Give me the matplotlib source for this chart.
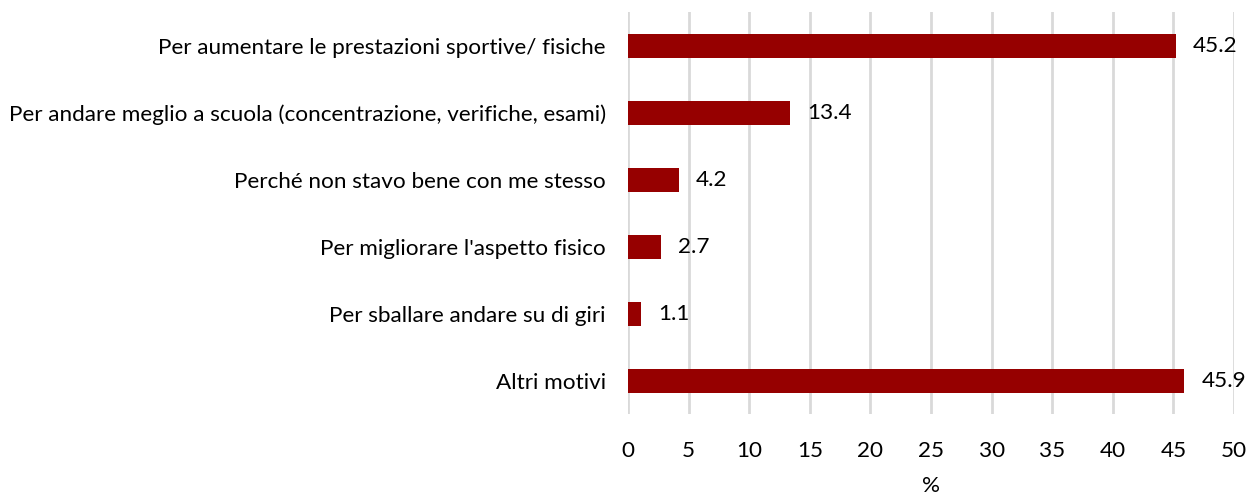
import matplotlib.pyplot as plt
import numpy as np

plt.rcParams["font.family"] = ["Lato", "DejaVu Sans"]

categories = [
    "Per aumentare le prestazioni sportive/ fisiche",
    "Per andare meglio a scuola (concentrazione, verifiche, esami)",
    "Perché non stavo bene con me stesso",
    "Per migliorare l'aspetto fisico",
    "Per sballare andare su di giri",
    "Altri motivi",
]
values = [45.2, 13.4, 4.2, 2.7, 1.1, 45.9]
xticks = [0, 5, 10, 15, 20, 25, 30, 35, 40, 45, 50]

BAR_COLOR = "#960000"
FS = 16.2

fig = plt.figure(figsize=(12.48, 4.94), dpi=100)
ax = fig.add_axes([0.5032, 0.161, 0.4856, 0.8137])

y = np.arange(len(categories))
ax.barh(y, values, height=0.36, color=BAR_COLOR, zorder=3)
for yi, v in zip(y, values):
    ax.text(v + 1.4, yi, f"{v:.1f}", va="center", ha="left", fontsize=FS, color="#000000")

ax.set_ylim(len(categories) - 0.5, -0.5)
ax.set_xlim(0, 50)
ax.set_yticks(y)
ax.set_yticklabels(categories, fontsize=FS)
ax.set_xticks(xticks)
ax.set_xticklabels([str(t) for t in xticks], fontsize=FS)
ax.tick_params(axis="both", length=0)
ax.tick_params(axis="x", pad=19)
ax.tick_params(axis="y", pad=16)
ax.grid(axis="x", color="#d9d9d9", linewidth=2, zorder=0)
for s in ax.spines.values():
    s.set_visible(False)
ax.set_xlabel("%", fontsize=FS, labelpad=11)

fig.savefig("out.png", dpi=100)
